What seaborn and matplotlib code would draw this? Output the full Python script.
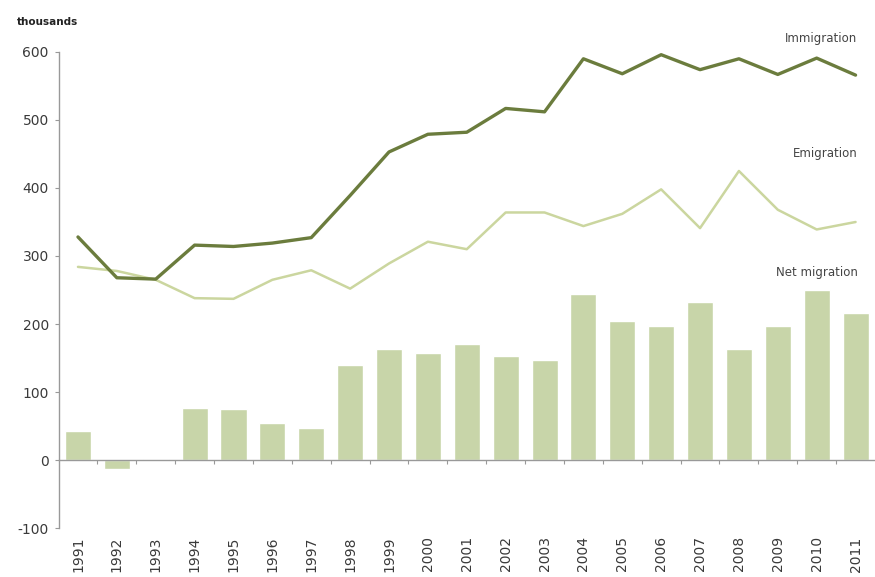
import matplotlib
matplotlib.use("Agg")
import matplotlib.pyplot as plt
import seaborn as sns
import numpy as np
import pandas as pd

years = [str(y) for y in range(1991, 2012)]
immigration = [328, 268, 266, 316, 314, 319, 327, 389, 453, 479, 482, 517, 512,
               590, 568, 596, 574, 590, 567, 591, 566]
emigration = [284, 278, 265, 238, 237, 265, 279, 252, 289, 321, 310, 364, 364,
              344, 362, 398, 341, 425, 368, 339, 350]
net_migration = [42, -13, 1, 76, 75, 54, 47, 139, 163, 157, 170, 153, 147,
                 244, 205, 197, 232, 163, 197, 250, 216]
y_ticks = [-100, 0, 100, 200, 300, 400, 500, 600]

sns.set_style("white")
plt.rcParams['font.family'] = ['DejaVu Sans']

fig = plt.figure(figsize=(8.75, 5.77), dpi=100)
ax = fig.add_axes([0.0669, 0.0849, 0.9331, 0.825])

df = pd.DataFrame({"year": years, "net": net_migration})
sns.barplot(data=df, x="year", y="net", color="#c8d5a9", saturation=1,
            width=0.67, ax=ax, zorder=2)

pos = np.arange(len(years))
sns.lineplot(x=pos, y=emigration, color="#cbd69f", lw=1.8, ax=ax, zorder=3)
sns.lineplot(x=pos, y=immigration, color="#6b7c3d", lw=2.4, ax=ax, zorder=4)

ax.set_xlim(-0.5, len(years) - 0.5)
ax.set_ylim(-100, 600)
ax.set_yticks(y_ticks)
ax.set_yticklabels([str(v) for v in y_ticks])
ax.tick_params(axis="y", colors="#999999", labelcolor="#3a3a3a", labelsize=10,
               length=3, width=0.8, direction="out", left=True, pad=4)
ax.set_xlabel("")
ax.set_ylabel("")

for s in ["top", "right"]:
    ax.spines[s].set_visible(False)
ax.spines["left"].set_color("#999999")
ax.spines["left"].set_linewidth(1.0)
ax.spines["bottom"].set_position(("data", 0))
ax.spines["bottom"].set_color("#999999")
ax.spines["bottom"].set_linewidth(1.0)
ax.spines["bottom"].set_zorder(5)

# boundary ticks on zero line
ax.set_xticks(pos[:-1] + 0.5)
ax.set_xticklabels([])
ax.tick_params(axis="x", bottom=True, length=3, width=0.8, colors="#999999",
               direction="out")

# year labels at bottom
sec = ax.secondary_xaxis(0)
sec.set_xticks(pos)
sec.set_xticklabels(years, rotation=90)
sec.tick_params(length=0, labelsize=10, labelcolor="#3a3a3a", pad=6)
sec.spines["bottom"].set_visible(False)

fig.text(0.0194, 0.962, "thousands", fontsize=7.5, fontweight="bold",
         color="#222222", ha="left", va="center")

lbl_kw = dict(fontsize=8.5, color="#444444", ha="right", va="center")
ax.text(20.05, 620, "Immigration", **lbl_kw)
ax.text(20.05, 451, "Emigration", **lbl_kw)
ax.text(20.05, 276, "Net migration", **lbl_kw)

fig.savefig("out.png", dpi=100)
